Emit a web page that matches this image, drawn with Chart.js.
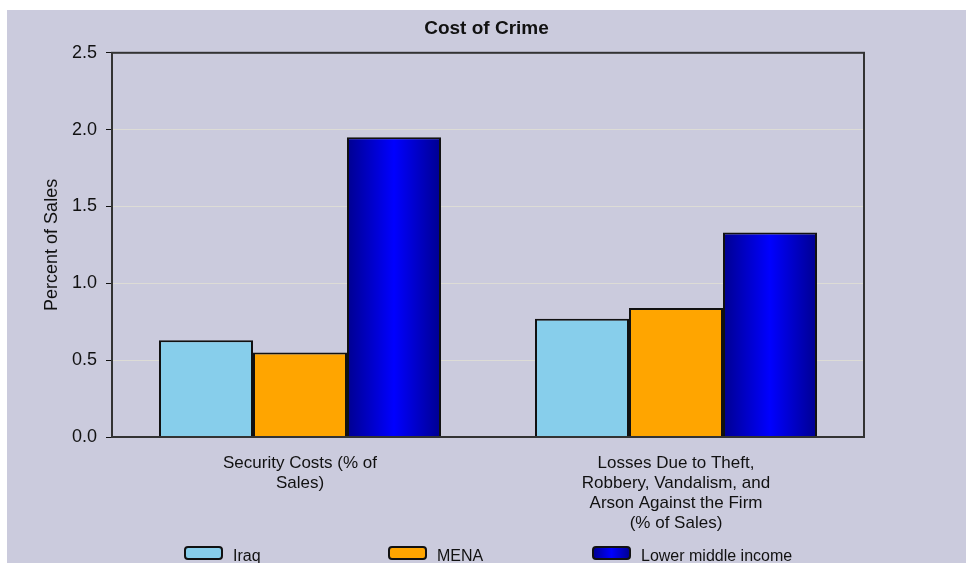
<!DOCTYPE html>
<html>
<head>
<meta charset="utf-8">
<script src="https://cdn.jsdelivr.net/npm/chart.js@4.4.1/dist/chart.umd.min.js"></script>
<style>
    html, body { margin: 0; padding: 0; background: #ffffff; }
    #wrap { width: 966px; height: 563px; }
</style>
</head>
<body>
<div id="wrap"><canvas id="myChart" width="966" height="563"></canvas></div>
<script>
// Datos de la gráfica
const categorias = [
    ["Security Costs (% of", "Sales)"],
    ["Losses Due to Theft,", "Robbery, Vandalism, and", "Arson Against the Firm", "(% of Sales)"]
];
const valoresIraq = [0.63, 0.77];
const valoresMena = [0.55, 0.84];
const valoresLowerMiddle = [1.95, 1.33];
const ticksY = [0, 0.5, 1.0, 1.5, 2.0, 2.5];

const FUENTE = "'Liberation Sans Narrow', 'Liberation Sans', Arial, sans-serif";
const FONDO = '#cbcbdd';

// Degradado horizontal para las barras azules
function degradadoAzul(chart, x0, x1) {
    const g = chart.ctx.createLinearGradient(x0, 0, x1, 0);
    g.addColorStop(0, '#000090');
    g.addColorStop(0.5, '#0000ff');
    g.addColorStop(1, '#000090');
    return g;
}

function colorAzul(context) {
    const chart = context.chart;
    const x = chart.scales.x;
    if (!x || context.dataIndex === undefined || !isFinite(x.width) || !x.width) return '#0000cc';
    const ancho = (x.width / categorias.length) * 0.75 / 3;
    const centro = x.getPixelForValue(context.dataIndex) + ancho;
    if (!isFinite(centro)) return '#0000cc';
    return degradadoAzul(chart, centro - ancho / 2, centro + ancho / 2);
}

// Fondo gris y marco del área de la gráfica
const fondoPlugin = {
    id: 'fondo',
    beforeDraw(chart) {
        const ctx = chart.ctx;
        ctx.save();
        ctx.fillStyle = FONDO;
        ctx.fillRect(7, 10, chart.width - 7, chart.height - 10);
        ctx.restore();
    },
    afterDatasetsDraw(chart) {
        const a = chart.chartArea;
        const ctx = chart.ctx;
        ctx.save();
        ctx.strokeStyle = '#333333';
        ctx.lineWidth = 2;
        ctx.strokeRect(a.left, a.top, a.right - a.left, a.bottom - a.top);
        ctx.restore();
    }
};

// Leyenda propia en columnas
const leyendaPlugin = {
    id: 'leyenda',
    afterDraw(chart) {
        const ctx = chart.ctx;
        const columnas = [185, 389, 593];
        const y = 547;
        ctx.save();
        chart.data.datasets.forEach((ds, i) => {
            const x = columnas[i];
            ctx.beginPath();
            ctx.roundRect(x, y, 37, 12, 3);
            ctx.fillStyle = i === 2 ? degradadoAzul(chart, x, x + 37) : ds.backgroundColor;
            ctx.fill();
            ctx.lineWidth = 2;
            ctx.strokeStyle = '#111111';
            ctx.stroke();
            ctx.fillStyle = '#111111';
            ctx.font = "16px " + FUENTE;
            ctx.textBaseline = 'middle';
            ctx.fillText(ds.label, x + 48, y + 10);
        });
        ctx.restore();
    }
};

const miGrafica = new Chart(document.getElementById("myChart").getContext("2d"), {
    type: "bar",
    data: {
        labels: categorias,
        datasets: [
            {
                label: "Iraq",
                data: valoresIraq,
                backgroundColor: '#87ceeb',
                borderColor: '#111111',
                borderWidth: 2,
                borderSkipped: 'bottom'
            },
            {
                label: "MENA",
                data: valoresMena,
                backgroundColor: '#ffa500',
                borderColor: '#111111',
                borderWidth: 2,
                borderSkipped: 'bottom'
            },
            {
                label: "Lower middle income",
                data: valoresLowerMiddle,
                backgroundColor: colorAzul,
                borderColor: '#111111',
                borderWidth: 2,
                borderSkipped: 'bottom'
            }
        ]
    },
    options: {
        responsive: false,
        animation: false,
        devicePixelRatio: 1,
        layout: { padding: { left: 7, right: 0, top: 0, bottom: 0 } },
        datasets: { bar: { categoryPercentage: 0.75, barPercentage: 1.0 } },
        scales: {
            x: {
                grid: { display: false, drawTicks: false },
                border: { display: false },
                ticks: {
                    color: '#111111',
                    padding: 16,
                    maxRotation: 0,
                    font: { family: FUENTE, size: 17, lineHeight: 1.18 }
                },
                afterFit(scale) { scale.height = 126; }
            },
            y: {
                min: 0,
                max: 2.5,
                afterBuildTicks(scale) { scale.ticks = ticksY.map(v => ({ value: v })); },
                grid: { color: '#dddcd6', tickColor: '#111111', tickLength: 6, lineWidth: 1 },
                border: { display: false },
                ticks: {
                    color: '#111111',
                    padding: 9,
                    font: { family: FUENTE, size: 18 },
                    callback: v => Number(v).toFixed(1)
                },
                title: {
                    display: true,
                    text: "Percent of Sales",
                    color: '#111111',
                    font: { family: FUENTE, size: 18 },
                    padding: { top: 34, bottom: 0 }
                },
                afterFit(scale) { scale.width = 105; }
            },
            // Margen derecho vacío, para que el título quede centrado en toda la figura
            margenDerecho: {
                position: 'right',
                min: 0,
                max: 1,
                grid: { display: false, drawTicks: false },
                border: { display: false },
                ticks: { display: false },
                afterFit(scale) { scale.width = 102; }
            }
        },
        plugins: {
            legend: { display: false },
            tooltip: { enabled: false },
            title: {
                display: true,
                text: 'Cost of Crime',
                color: '#111111',
                font: { family: FUENTE, size: 19, weight: 'bold', lineHeight: 1.2 },
                padding: { top: 17, bottom: 13 }
            }
        }
    },
    plugins: [fondoPlugin, leyendaPlugin]
});
// Segunda pasada para que el degradado use las escalas ya calculadas
miGrafica.update('none');
</script>
</body>
</html>
